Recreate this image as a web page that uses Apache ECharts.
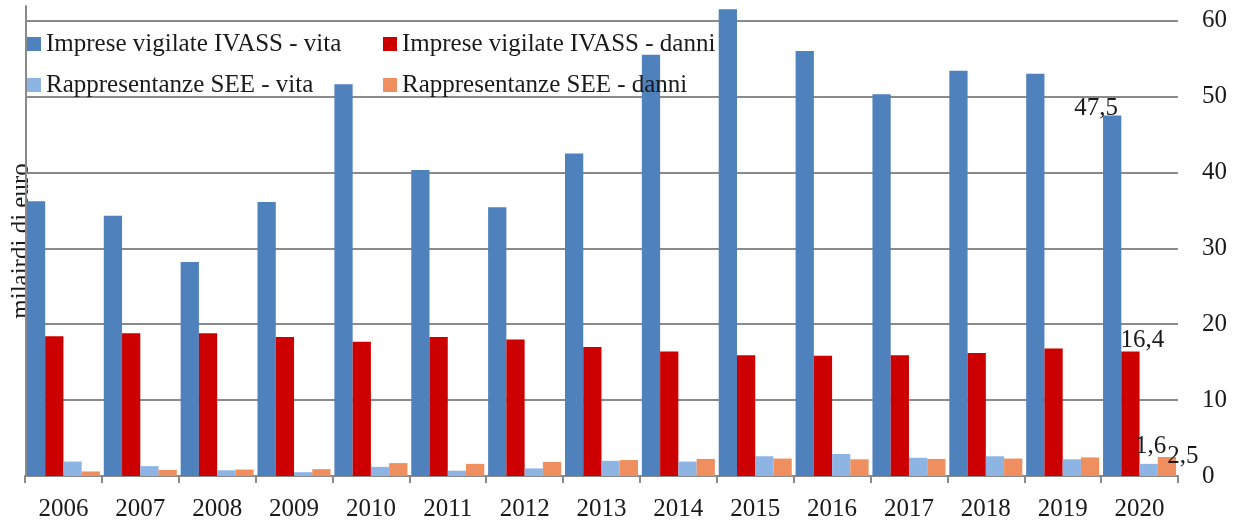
<!DOCTYPE html>
<html>
<head>
<meta charset="utf-8">
<script src="https://cdn.jsdelivr.net/npm/echarts@6/dist/echarts.min.js"></script>
<style>
html,body{margin:0;padding:0;background:#fff;}
#chart{width:1240px;height:527px;}
</style>
</head>
<body>
<div id="chart"></div>
<script>
const years = ['2006','2007','2008','2009','2010','2011','2012','2013','2014','2015','2016','2017','2018','2019','2020'];
const impreseVita  = [36.2, 34.3, 28.2, 36.1, 51.6, 40.3, 35.4, 42.5, 55.5, 61.5, 56.0, 50.3, 53.4, 53.0, 47.5];
const impreseDanni = [18.4, 18.8, 18.8, 18.3, 17.7, 18.3, 18.0, 17.0, 16.4, 15.9, 15.85, 15.9, 16.2, 16.8, 16.4];
const seeVita      = [1.9, 1.3, 0.75, 0.5, 1.2, 0.7, 1.0, 2.0, 1.9, 2.6, 2.9, 2.4, 2.6, 2.2, 1.6];
const seeDanni     = [0.6, 0.8, 0.85, 0.9, 1.7, 1.6, 1.85, 2.1, 2.25, 2.3, 2.2, 2.25, 2.3, 2.45, 2.5];
const seriesNames = ['Imprese vigilate IVASS - vita','Imprese vigilate IVASS - danni','Rappresentanze SEE - vita','Rappresentanze SEE - danni'];
const yTicks = [0, 10, 20, 30, 40, 50, 60];

const FONT = '"Liberation Serif", "DejaVu Serif", serif';
const TXT = '#1a1a1a';
const GRID = '#8a8a8a';
const colors = ['#4F81BD', '#CC0000', '#8EB4E3', '#EF8F5F'];
const labelOffsets = [[-16, 10], [12, 6], [2, 0], [16, 17]];
const last = years.length - 1;

function mkSeries(name, data, idx) {
  return {
    name: name,
    type: 'bar',
    xAxisIndex: 0,
    yAxisIndex: 0,
    data: data,
    barGap: '0%',
    barCategoryGap: '5%',
    itemStyle: { color: colors[idx] },
    label: {
      show: true,
      position: 'top',
      offset: labelOffsets[idx],
      fontFamily: FONT,
      fontSize: 25,
      color: TXT,
      formatter: p => p.dataIndex === last ? String(p.value).replace('.', ',') : ''
    },
    emphasis: { disabled: true }
  };
}

function mkLegend(name, left, top) {
  return {
    data: [name],
    left: left,
    top: top,
    padding: 0,
    icon: 'rect',
    itemWidth: 14,
    itemHeight: 14,
    textStyle: { fontFamily: FONT, fontSize: 25, color: TXT, lineHeight: 30 }
  };
}

const chart = echarts.init(document.getElementById('chart'), null, { renderer: 'canvas' });
chart.setOption({
  animation: false,
  backgroundColor: '#fff',
  legend: [
    mkLegend(seriesNames[0], 27, 29),
    mkLegend(seriesNames[1], 383, 29),
    mkLegend(seriesNames[2], 27, 70),
    mkLegend(seriesNames[3], 383, 70)
  ],
  grid: [
    { left: 25, right: 62, top: -55.3, bottom: 51, outerBoundsMode: 'none', containLabel: false },
    { left: 26, right: 62, top: 6, bottom: 51, outerBoundsMode: 'none', containLabel: false }
  ],
  xAxis: [
    {
      type: 'category',
      gridIndex: 0,
      data: years,
      axisLine: { show: true, lineStyle: { color: GRID, width: 2 } },
      axisTick: { show: true, length: 7, lineStyle: { color: GRID, width: 2 } },
      axisLabel: { fontFamily: FONT, fontSize: 25, color: TXT, margin: 21 },
      splitLine: { show: false }
    },
    { type: 'category', gridIndex: 1, data: years, show: false }
  ],
  yAxis: [
    {
      type: 'value',
      gridIndex: 0,
      position: 'right',
      min: 0,
      max: 70,
      interval: 10,
      axisLine: { show: false },
      axisTick: { show: false },
      axisLabel: {
        fontFamily: FONT, fontSize: 25, color: TXT, margin: 24,
        formatter: v => (yTicks.indexOf(v) >= 0 ? String(v) : '')
      },
      splitLine: { show: true, lineStyle: { color: GRID, width: 2 } }
    },
    {
      type: 'value',
      gridIndex: 1,
      position: 'left',
      min: 0,
      max: 1,
      axisLine: { show: true, lineStyle: { color: GRID, width: 2 } },
      axisTick: { show: false },
      axisLabel: { show: false },
      splitLine: { show: false },
      name: 'milairdi di euro',
      nameLocation: 'middle',
      nameRotate: 90,
      nameGap: -8,
      nameTextStyle: { fontFamily: FONT, fontSize: 25, color: TXT }
    }
  ],
  series: [
    mkSeries(seriesNames[0], impreseVita, 0),
    mkSeries(seriesNames[1], impreseDanni, 1),
    mkSeries(seriesNames[2], seeVita, 2),
    mkSeries(seriesNames[3], seeDanni, 3)
  ]
});
</script>
</body>
</html>
